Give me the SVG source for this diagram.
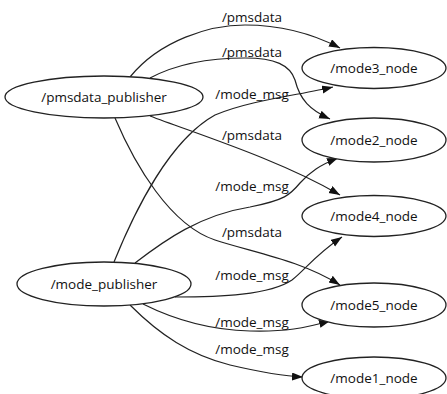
<svg xmlns="http://www.w3.org/2000/svg" width="447" height="394" viewBox="0 0 447 394">
<style>
.n ellipse{fill:#fff;stroke:#222;stroke-width:1.3}
text{font-family:"Open Sans","Noto Sans","DejaVu Sans",sans-serif;fill:#111}
.n text{font-size:13.5px;text-anchor:middle}
.e path{fill:none;stroke:#222;stroke-width:1.2}
.e text{font-size:13.5px;text-anchor:middle}
</style>
<defs>
<marker id="ah" markerUnits="userSpaceOnUse" markerWidth="12" markerHeight="9" refX="11" refY="4" orient="auto"><path d="M0,0 L11,4 L0,8 z" fill="#111"/></marker>
</defs>
<g class="e" id="connectors">
<path d="M130,77 C160,40 210,25 245,25 C285,25 315,35 340,48" marker-end="url(#ah)"/>
<text x="252" y="22">/pmsdata</text>
<path d="M150,78 C180,62 215,58 245,58 C275,58 290,65 295,80 C300,100 310,110 330,119" marker-end="url(#ah)"/>
<text x="252" y="57">/pmsdata</text>
<path d="M114,262 C135,210 170,140 215,115 C250,100 300,95 333,87" marker-end="url(#ah)"/>
<text x="252" y="99">/mode_msg</text>
<path d="M150,116 C200,135 280,160 340,195" marker-end="url(#ah)"/>
<text x="252" y="140">/pmsdata</text>
<path d="M135,263 C165,240 200,215 250,207 C285,200 290,195 300,183 C310,172 320,165 338,158" marker-end="url(#ah)"/>
<text x="252" y="191">/mode_msg</text>
<path d="M115,118 C135,165 170,225 215,240 C255,253 300,260 340,285" marker-end="url(#ah)"/>
<text x="252" y="237">/pmsdata</text>
<path d="M175,297 C220,297 270,295 292,280 C305,270 315,255 342,237" marker-end="url(#ah)"/>
<text x="252" y="280">/mode_msg</text>
<path d="M143,304 C175,320 210,330 250,331 C285,332 305,328 330,321" marker-end="url(#ah)"/>
<text x="252" y="327">/mode_msg</text>
<path d="M130,305 C160,335 190,355 230,365 C260,372 280,376 303,377" marker-end="url(#ah)"/>
<text x="252" y="354">/mode_msg</text>
</g>
<g class="n" id="pmsdata_publisher"><ellipse cx="104" cy="97" rx="99" ry="21"/><text x="104" y="102">/pmsdata_publisher</text></g>
<g class="n" id="mode_publisher"><ellipse cx="104" cy="284" rx="87" ry="22"/><text x="104" y="289">/mode_publisher</text></g>
<g class="n" id="mode3_node"><ellipse cx="374" cy="68" rx="72" ry="20.5"/><text x="374" y="73">/mode3_node</text></g>
<g class="n" id="mode2_node"><ellipse cx="374" cy="140" rx="72" ry="22"/><text x="374" y="145">/mode2_node</text></g>
<g class="n" id="mode4_node"><ellipse cx="374" cy="216" rx="72" ry="20.5"/><text x="374" y="221">/mode4_node</text></g>
<g class="n" id="mode5_node"><ellipse cx="374" cy="305" rx="72" ry="22"/><text x="374" y="310">/mode5_node</text></g>
<g class="n" id="mode1_node"><ellipse cx="374" cy="378" rx="72" ry="21"/><text x="374" y="383">/mode1_node</text></g>
</svg>
